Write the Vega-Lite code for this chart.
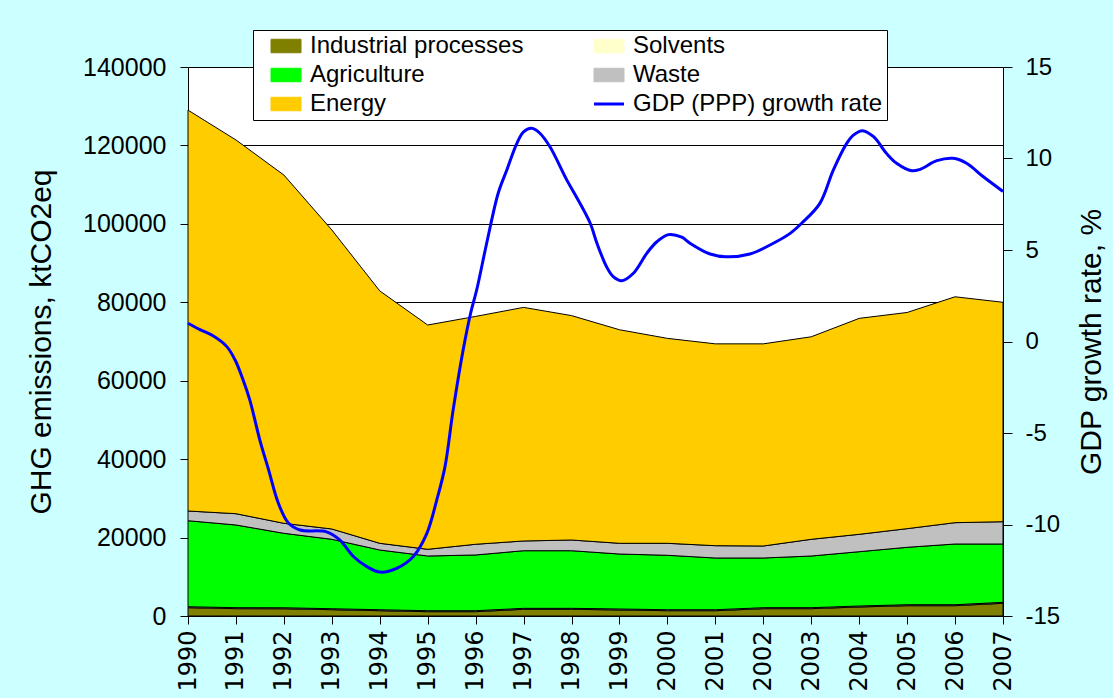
{
  "$schema": "https://vega.github.io/schema/vega-lite/v6.json",
  "width": 815,
  "height": 549,
  "autosize": {"type": "none"},
  "padding": {"left": 188, "top": 67, "right": 110, "bottom": 82},
  "background": "#ccffff",
  "config": {
    "view": {"fill": "white", "stroke": "#808080", "strokeWidth": 1},
    "axis": {
      "labelFont": "Liberation Sans", "labelFontSize": 24, "labelColor": "black",
      "titleFont": "Liberation Sans", "titleFontSize": 30, "titleFontWeight": "normal", "titleColor": "black",
      "domainColor": "black", "tickColor": "black", "domainWidth": 1, "tickWidth": 1
    },
    "legend": {
      "title": null, "orient": "none", "legendX": 65, "legendY": -37,
      "columns": 2, "direction": "horizontal",
      "labelFont": "Liberation Sans", "labelFontSize": 24, "labelColor": "black", "labelLimit": 400,
      "fillColor": "white", "strokeColor": "black", "padding": 4,
      "columnPadding": 56, "rowPadding": 5, "labelOffset": 12, "symbolSize": 900, "symbolOffset": 17
    }
  },
  "datasets": {
    "emissions": [
      {"year": 1990, "sector": "Industrial processes", "n": 1, "value": 2120},
      {"year": 1990, "sector": "Solvents", "n": 2, "value": 250},
      {"year": 1990, "sector": "Agriculture", "n": 3, "value": 21930},
      {"year": 1990, "sector": "Waste", "n": 4, "value": 2475},
      {"year": 1990, "sector": "Energy", "n": 5, "value": 102225},
      {"year": 1991, "sector": "Industrial processes", "n": 1, "value": 1870},
      {"year": 1991, "sector": "Solvents", "n": 2, "value": 250},
      {"year": 1991, "sector": "Agriculture", "n": 3, "value": 21090},
      {"year": 1991, "sector": "Waste", "n": 4, "value": 2880},
      {"year": 1991, "sector": "Energy", "n": 5, "value": 95310},
      {"year": 1992, "sector": "Industrial processes", "n": 1, "value": 1850},
      {"year": 1992, "sector": "Solvents", "n": 2, "value": 250},
      {"year": 1992, "sector": "Agriculture", "n": 3, "value": 18990},
      {"year": 1992, "sector": "Waste", "n": 4, "value": 2550},
      {"year": 1992, "sector": "Energy", "n": 5, "value": 88810},
      {"year": 1993, "sector": "Industrial processes", "n": 1, "value": 1610},
      {"year": 1993, "sector": "Solvents", "n": 2, "value": 250},
      {"year": 1993, "sector": "Agriculture", "n": 3, "value": 17700},
      {"year": 1993, "sector": "Waste", "n": 4, "value": 2630},
      {"year": 1993, "sector": "Energy", "n": 5, "value": 76260},
      {"year": 1994, "sector": "Industrial processes", "n": 1, "value": 1350},
      {"year": 1994, "sector": "Solvents", "n": 2, "value": 250},
      {"year": 1994, "sector": "Agriculture", "n": 3, "value": 15230},
      {"year": 1994, "sector": "Waste", "n": 4, "value": 1710},
      {"year": 1994, "sector": "Energy", "n": 5, "value": 64360},
      {"year": 1995, "sector": "Industrial processes", "n": 1, "value": 1100},
      {"year": 1995, "sector": "Solvents", "n": 2, "value": 250},
      {"year": 1995, "sector": "Agriculture", "n": 3, "value": 13950},
      {"year": 1995, "sector": "Waste", "n": 4, "value": 1710},
      {"year": 1995, "sector": "Energy", "n": 5, "value": 57190},
      {"year": 1996, "sector": "Industrial processes", "n": 1, "value": 1100},
      {"year": 1996, "sector": "Solvents", "n": 2, "value": 250},
      {"year": 1996, "sector": "Agriculture", "n": 3, "value": 14210},
      {"year": 1996, "sector": "Waste", "n": 4, "value": 2730},
      {"year": 1996, "sector": "Energy", "n": 5, "value": 58110},
      {"year": 1997, "sector": "Industrial processes", "n": 1, "value": 1710},
      {"year": 1997, "sector": "Solvents", "n": 2, "value": 250},
      {"year": 1997, "sector": "Agriculture", "n": 3, "value": 14690},
      {"year": 1997, "sector": "Waste", "n": 4, "value": 2480},
      {"year": 1997, "sector": "Energy", "n": 5, "value": 59570},
      {"year": 1998, "sector": "Industrial processes", "n": 1, "value": 1710},
      {"year": 1998, "sector": "Solvents", "n": 2, "value": 250},
      {"year": 1998, "sector": "Agriculture", "n": 3, "value": 14690},
      {"year": 1998, "sector": "Waste", "n": 4, "value": 2730},
      {"year": 1998, "sector": "Energy", "n": 5, "value": 57220},
      {"year": 1999, "sector": "Industrial processes", "n": 1, "value": 1540},
      {"year": 1999, "sector": "Solvents", "n": 2, "value": 250},
      {"year": 1999, "sector": "Agriculture", "n": 3, "value": 14020},
      {"year": 1999, "sector": "Waste", "n": 4, "value": 2730},
      {"year": 1999, "sector": "Energy", "n": 5, "value": 54460},
      {"year": 2000, "sector": "Industrial processes", "n": 1, "value": 1350},
      {"year": 2000, "sector": "Solvents", "n": 2, "value": 250},
      {"year": 2000, "sector": "Agriculture", "n": 3, "value": 13880},
      {"year": 2000, "sector": "Waste", "n": 4, "value": 3060},
      {"year": 2000, "sector": "Energy", "n": 5, "value": 52260},
      {"year": 2001, "sector": "Industrial processes", "n": 1, "value": 1350},
      {"year": 2001, "sector": "Solvents", "n": 2, "value": 250},
      {"year": 2001, "sector": "Agriculture", "n": 3, "value": 13190},
      {"year": 2001, "sector": "Waste", "n": 4, "value": 3140},
      {"year": 2001, "sector": "Energy", "n": 5, "value": 51470},
      {"year": 2002, "sector": "Industrial processes", "n": 1, "value": 1870},
      {"year": 2002, "sector": "Solvents", "n": 2, "value": 250},
      {"year": 2002, "sector": "Agriculture", "n": 3, "value": 12670},
      {"year": 2002, "sector": "Waste", "n": 4, "value": 3060},
      {"year": 2002, "sector": "Energy", "n": 5, "value": 51550},
      {"year": 2003, "sector": "Industrial processes", "n": 1, "value": 1870},
      {"year": 2003, "sector": "Solvents", "n": 2, "value": 250},
      {"year": 2003, "sector": "Agriculture", "n": 3, "value": 13180},
      {"year": 2003, "sector": "Waste", "n": 4, "value": 4260},
      {"year": 2003, "sector": "Energy", "n": 5, "value": 51640},
      {"year": 2004, "sector": "Industrial processes", "n": 1, "value": 2300},
      {"year": 2004, "sector": "Solvents", "n": 2, "value": 250},
      {"year": 2004, "sector": "Agriculture", "n": 3, "value": 13850},
      {"year": 2004, "sector": "Waste", "n": 4, "value": 4430},
      {"year": 2004, "sector": "Energy", "n": 5, "value": 55070},
      {"year": 2005, "sector": "Industrial processes", "n": 1, "value": 2630},
      {"year": 2005, "sector": "Solvents", "n": 2, "value": 250},
      {"year": 2005, "sector": "Agriculture", "n": 3, "value": 14640},
      {"year": 2005, "sector": "Waste", "n": 4, "value": 4750},
      {"year": 2005, "sector": "Energy", "n": 5, "value": 55130},
      {"year": 2006, "sector": "Industrial processes", "n": 1, "value": 2630},
      {"year": 2006, "sector": "Solvents", "n": 2, "value": 250},
      {"year": 2006, "sector": "Agriculture", "n": 3, "value": 15480},
      {"year": 2006, "sector": "Waste", "n": 4, "value": 5440},
      {"year": 2006, "sector": "Energy", "n": 5, "value": 57600},
      {"year": 2007, "sector": "Industrial processes", "n": 1, "value": 3240},
      {"year": 2007, "sector": "Solvents", "n": 2, "value": 250},
      {"year": 2007, "sector": "Agriculture", "n": 3, "value": 14870},
      {"year": 2007, "sector": "Waste", "n": 4, "value": 5690},
      {"year": 2007, "sector": "Energy", "n": 5, "value": 55950}
    ],
    "gdp": [
      {"year": 1990, "gdp": 1.0}, {"year": 1990.25, "gdp": 0.65}, {"year": 1990.53, "gdp": 0.3},
      {"year": 1990.81, "gdp": -0.28}, {"year": 1990.98, "gdp": -1.0}, {"year": 1991.15, "gdp": -2.1},
      {"year": 1991.29, "gdp": -3.2}, {"year": 1991.5, "gdp": -5.4}, {"year": 1991.68, "gdp": -7.0},
      {"year": 1991.88, "gdp": -8.8}, {"year": 1992.09, "gdp": -9.9}, {"year": 1992.34, "gdp": -10.3},
      {"year": 1992.89, "gdp": -10.4}, {"year": 1993.17, "gdp": -10.85}, {"year": 1993.45, "gdp": -11.75},
      {"year": 1993.73, "gdp": -12.3}, {"year": 1994.0, "gdp": -12.6}, {"year": 1994.35, "gdp": -12.4},
      {"year": 1994.7, "gdp": -11.75}, {"year": 1994.98, "gdp": -10.5}, {"year": 1995.19, "gdp": -8.65},
      {"year": 1995.36, "gdp": -6.85}, {"year": 1995.53, "gdp": -3.75}, {"year": 1995.74, "gdp": -0.45},
      {"year": 1995.9, "gdp": 1.6}, {"year": 1996.02, "gdp": 2.8}, {"year": 1996.23, "gdp": 5.37},
      {"year": 1996.47, "gdp": 8.1}, {"year": 1996.65, "gdp": 9.37}, {"year": 1996.86, "gdp": 10.83},
      {"year": 1997.0, "gdp": 11.46}, {"year": 1997.17, "gdp": 11.65}, {"year": 1997.34, "gdp": 11.38},
      {"year": 1997.55, "gdp": 10.64}, {"year": 1997.9, "gdp": 8.83}, {"year": 1998.1, "gdp": 7.91},
      {"year": 1998.39, "gdp": 6.46}, {"year": 1998.53, "gdp": 5.37}, {"year": 1998.73, "gdp": 4.09},
      {"year": 1998.87, "gdp": 3.54}, {"year": 1999.05, "gdp": 3.32}, {"year": 1999.29, "gdp": 3.73},
      {"year": 1999.57, "gdp": 4.82}, {"year": 1999.78, "gdp": 5.45}, {"year": 2000.02, "gdp": 5.84},
      {"year": 2000.3, "gdp": 5.7}, {"year": 2000.47, "gdp": 5.37}, {"year": 2000.89, "gdp": 4.78},
      {"year": 2001.24, "gdp": 4.63}, {"year": 2001.72, "gdp": 4.78}, {"year": 2002.21, "gdp": 5.37},
      {"year": 2002.56, "gdp": 5.91}, {"year": 2002.8, "gdp": 6.46}, {"year": 2003.18, "gdp": 7.55},
      {"year": 2003.46, "gdp": 9.37}, {"year": 2003.74, "gdp": 10.83}, {"year": 2003.88, "gdp": 11.28},
      {"year": 2004.07, "gdp": 11.52}, {"year": 2004.3, "gdp": 11.19}, {"year": 2004.57, "gdp": 10.28},
      {"year": 2004.78, "gdp": 9.74}, {"year": 2005.1, "gdp": 9.33}, {"year": 2005.27, "gdp": 9.41},
      {"year": 2005.62, "gdp": 9.88}, {"year": 2005.96, "gdp": 10.01}, {"year": 2006.24, "gdp": 9.74},
      {"year": 2006.59, "gdp": 9.0}, {"year": 2007.0, "gdp": 8.2}
    ]
  },
  "layer": [
    {
      "data": {"name": "emissions"},
      "mark": {"type": "area", "stroke": "black", "strokeWidth": 1, "opacity": 1, "fillOpacity": 1},
      "encoding": {
        "x": {
          "field": "year", "type": "quantitative",
          "scale": {"domain": [1990, 2007], "nice": false, "zero": false},
          "axis": {
            "title": null, "values": [1990,1991,1992,1993,1994,1995,1996,1997,1998,1999,2000,2001,2002,2003,2004,2005,2006,2007],
            "format": "d", "labelAngle": 270, "labelFont": "DejaVu Sans", "labelFontSize": 24,
            "tickSize": 8, "labelPadding": 6, "grid": false, "labelOverlap": false
          }
        },
        "y": {
          "field": "value", "type": "quantitative", "stack": "zero",
          "scale": {"domain": [0, 140000], "nice": false},
          "axis": {
            "title": "GHG emissions, ktCO2eq", "values": [0,20000,40000,60000,80000,100000,120000,140000],
            "format": "d", "grid": true, "gridColor": "black", "gridWidth": 1, "gridOpacity": 1,
            "tickSize": 8, "labelPadding": 14, "labelFontSize": 25, "titlePadding": 26
          }
        },
        "order": {"field": "n", "type": "quantitative"},
        "color": {
          "field": "sector", "type": "nominal",
          "scale": {
            "domain": ["Industrial processes", "Solvents", "Agriculture", "Waste", "Energy", "GDP (PPP) growth rate"],
            "range": ["#808000", "#ffffcc", "#00ff00", "#c0c0c0", "#ffcc00", "#0000ff"]
          },
          "legend": {
            "symbolType": "M-1,-0.45H1V0.45H-1Z",
            "encode": {
              "symbols": {
                "update": {
                  "shape": {"signal": "datum.label === 'GDP (PPP) growth rate' ? 'M-1,0H1' : 'M-1,-0.45H1V0.45H-1Z'"},
                  "fill": {"signal": "datum.label === 'GDP (PPP) growth rate' ? 'transparent' : scale('color', datum.value)"},
                  "stroke": {"signal": "datum.label === 'GDP (PPP) growth rate' ? '#0000ff' : 'black'"},
                  "strokeWidth": {"signal": "datum.label === 'GDP (PPP) growth rate' ? 3 : 1"},
                  "size": {"value": 900},
                  "opacity": {"value": 1},
                  "fillOpacity": {"value": 1},
                  "strokeOpacity": {"value": 1}
                }
              }
            }
          }
        }
      }
    },
    {
      "data": {"name": "gdp"},
      "mark": {"type": "line", "interpolate": "catmull-rom", "strokeWidth": 3},
      "encoding": {
        "x": {"field": "year", "type": "quantitative"},
        "y": {
          "field": "gdp", "type": "quantitative",
          "scale": {"domain": [-15, 15], "nice": false},
          "axis": {
            "orient": "right", "title": "GDP growth rate, %", "titleAngle": 270,
            "values": [-15,-10,-5,0,5,10,15], "grid": false, "tickSize": 9, "labelPadding": 13,
            "titlePadding": 47, "labelExpr": "datum.value + ''"
          }
        },
        "color": {
          "datum": "GDP (PPP) growth rate", "type": "nominal",
          "legend": {
            "symbolType": "M-1,-0.45H1V0.45H-1Z",
            "encode": {
              "symbols": {
                "update": {
                  "shape": {"signal": "datum.label === 'GDP (PPP) growth rate' ? 'M-1,0H1' : 'M-1,-0.45H1V0.45H-1Z'"},
                  "fill": {"signal": "datum.label === 'GDP (PPP) growth rate' ? 'transparent' : scale('color', datum.value)"},
                  "stroke": {"signal": "datum.label === 'GDP (PPP) growth rate' ? '#0000ff' : 'black'"},
                  "strokeWidth": {"signal": "datum.label === 'GDP (PPP) growth rate' ? 3 : 1"},
                  "size": {"value": 900},
                  "opacity": {"value": 1},
                  "fillOpacity": {"value": 1},
                  "strokeOpacity": {"value": 1}
                }
              }
            }
          }
        }
      }
    }
  ],
  "resolve": {"scale": {"y": "independent"}, "axis": {"y": "independent"}}
}
